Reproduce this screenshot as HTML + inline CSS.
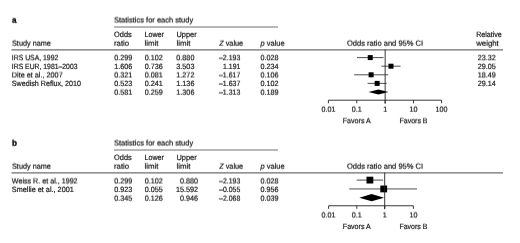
<!DOCTYPE html>
<html><head><meta charset="utf-8"><title>Forest plot</title>
<style>html,body{margin:0;padding:0;background:#fff;overflow:hidden}
#pg{position:relative;width:520px;height:243px;background:#fff;overflow:hidden}
.ly{position:absolute;left:0;top:0;width:520px;height:243px;transform-origin:0 0}
.ly.t{will-change:transform}
svg{display:block}
text{text-rendering:geometricPrecision;font-family:"Liberation Sans",sans-serif;font-size:7.7px;fill:#111;stroke:#111;stroke-width:0.18px}
text.b{font-weight:bold;fill:#000;font-size:8.4px;stroke:#000;stroke-width:0.3px}</style></head>
<body><div id="pg">
<div class="ly"><svg width="520" height="243" viewBox="0 0 520 243">
<line x1="114.00" y1="27.00" x2="278.00" y2="27.00" stroke="#707070" stroke-width="1.0"/>
<line x1="11.50" y1="49.80" x2="503.00" y2="49.80" stroke="#6e6e6e" stroke-width="1.25"/>
<line x1="356.97" y1="57.60" x2="383.57" y2="57.60" stroke="#222" stroke-width="0.8"/>
<rect x="367.75" y="55.10" width="5.0" height="5.0" fill="#000"/>
<line x1="381.37" y1="66.20" x2="400.62" y2="66.20" stroke="#222" stroke-width="0.8"/>
<rect x="388.50" y="63.70" width="5.0" height="5.0" fill="#000"/>
<line x1="354.13" y1="74.80" x2="388.12" y2="74.80" stroke="#222" stroke-width="0.8"/>
<rect x="368.62" y="72.30" width="5.0" height="5.0" fill="#000"/>
<line x1="367.59" y1="83.40" x2="386.72" y2="83.40" stroke="#222" stroke-width="0.8"/>
<rect x="374.65" y="80.90" width="5.0" height="5.0" fill="#000"/>
<polygon points="368.48,92.00 378.45,89.40 388.45,92.00 378.45,94.60" fill="#000"/>
<line x1="328.40" y1="100.20" x2="441.60" y2="100.20" stroke="#222" stroke-width="0.9"/>
<line x1="385.15" y1="49.50" x2="385.15" y2="103.70" stroke="#222" stroke-width="0.9"/>
<line x1="328.40" y1="100.20" x2="328.40" y2="103.30" stroke="#222" stroke-width="0.9"/>
<line x1="356.75" y1="100.20" x2="356.75" y2="103.30" stroke="#222" stroke-width="0.9"/>
<line x1="385.15" y1="100.20" x2="385.15" y2="103.30" stroke="#222" stroke-width="0.9"/>
<line x1="413.50" y1="100.20" x2="413.50" y2="103.30" stroke="#222" stroke-width="0.9"/>
<line x1="441.60" y1="100.20" x2="441.60" y2="103.30" stroke="#222" stroke-width="0.9"/>
<line x1="114.00" y1="150.00" x2="278.00" y2="150.00" stroke="#707070" stroke-width="1.0"/>
<line x1="11.50" y1="172.80" x2="503.00" y2="172.80" stroke="#6e6e6e" stroke-width="1.25"/>
<line x1="356.74" y1="180.10" x2="383.13" y2="180.10" stroke="#222" stroke-width="0.8"/>
<rect x="366.51" y="176.70" width="6.8" height="6.8" fill="#000"/>
<line x1="349.18" y1="188.95" x2="417.00" y2="188.95" stroke="#222" stroke-width="0.8"/>
<rect x="380.32" y="185.55" width="6.8" height="6.8" fill="#000"/>
<polygon points="359.33,197.70 371.67,194.10 384.02,197.70 371.67,201.30" fill="#000"/>
<line x1="328.60" y1="205.75" x2="413.40" y2="205.75" stroke="#222" stroke-width="0.9"/>
<line x1="384.70" y1="172.50" x2="384.70" y2="209.25" stroke="#222" stroke-width="0.9"/>
<line x1="328.60" y1="205.75" x2="328.60" y2="208.85" stroke="#222" stroke-width="0.9"/>
<line x1="356.80" y1="205.75" x2="356.80" y2="208.85" stroke="#222" stroke-width="0.9"/>
<line x1="384.70" y1="205.75" x2="384.70" y2="208.85" stroke="#222" stroke-width="0.9"/>
<line x1="413.40" y1="205.75" x2="413.40" y2="208.85" stroke="#222" stroke-width="0.9"/>
</svg></div>
<div class="ly t" style="transform:translate(0px,0.0px) rotate(0.004deg)"><svg width="520" height="243" viewBox="0 0 520 243">
<text x="114.0" y="37" textLength="17.70" lengthAdjust="spacingAndGlyphs">Odds</text>
<text x="144.5" y="37" textLength="19.40" lengthAdjust="spacingAndGlyphs">Lower</text>
<text x="176.5" y="37" textLength="20.20" lengthAdjust="spacingAndGlyphs">Upper</text>
<text x="476.2" y="37" textLength="25.60" lengthAdjust="spacingAndGlyphs">Relative</text>
<text x="11.8" y="69" textLength="65.70" lengthAdjust="spacingAndGlyphs">IRS EUR, 1981–2003</text>
<text x="114.2" y="69" textLength="18.04" lengthAdjust="spacingAndGlyphs">1.606</text>
<text x="144.7" y="69" textLength="18.04" lengthAdjust="spacingAndGlyphs">0.736</text>
<text x="194.4" y="69" text-anchor="end" textLength="18.04" lengthAdjust="spacingAndGlyphs">3.503</text>
<text x="240.3" y="69" text-anchor="end" textLength="17.20" lengthAdjust="spacingAndGlyphs">1.191</text>
<text x="260.5" y="69" textLength="18.04" lengthAdjust="spacingAndGlyphs">0.234</text>
<text x="477.7" y="69" textLength="18.04" lengthAdjust="spacingAndGlyphs">29.05</text>
<text x="11.8" y="86" textLength="69.10" lengthAdjust="spacingAndGlyphs">Swedish Reflux, 2010</text>
<text x="114.2" y="86" textLength="18.04" lengthAdjust="spacingAndGlyphs">0.523</text>
<text x="144.7" y="86" textLength="18.04" lengthAdjust="spacingAndGlyphs">0.241</text>
<text x="194.4" y="86" text-anchor="end" textLength="18.04" lengthAdjust="spacingAndGlyphs">1.136</text>
<text x="240.3" y="86" text-anchor="end" textLength="21.30" lengthAdjust="spacingAndGlyphs">–1.637</text>
<text x="260.5" y="86" textLength="18.04" lengthAdjust="spacingAndGlyphs">0.102</text>
<text x="477.7" y="86" textLength="18.04" lengthAdjust="spacingAndGlyphs">29.14</text>
<text x="114.0" y="160" textLength="17.70" lengthAdjust="spacingAndGlyphs">Odds</text>
<text x="144.5" y="160" textLength="19.40" lengthAdjust="spacingAndGlyphs">Lower</text>
<text x="176.5" y="160" textLength="20.20" lengthAdjust="spacingAndGlyphs">Upper</text>
<text x="11.8" y="192" textLength="62.00" lengthAdjust="spacingAndGlyphs">Smellie et al., 2001</text>
<text x="114.2" y="192" textLength="18.04" lengthAdjust="spacingAndGlyphs">0.923</text>
<text x="144.7" y="192" textLength="18.04" lengthAdjust="spacingAndGlyphs">0.055</text>
<text x="198.0" y="192" text-anchor="end" textLength="22.05" lengthAdjust="spacingAndGlyphs">15.592</text>
<text x="240.3" y="192" text-anchor="end" textLength="21.20" lengthAdjust="spacingAndGlyphs">–0.055</text>
<text x="260.5" y="192" textLength="18.04" lengthAdjust="spacingAndGlyphs">0.956</text>
<text x="356.8" y="229" text-anchor="middle" textLength="28.00" lengthAdjust="spacingAndGlyphs">Favors A</text>
<text x="413.4" y="229" text-anchor="middle" textLength="28.00" lengthAdjust="spacingAndGlyphs">Favors B</text>
</svg></div>
<div class="ly t" style="transform:translate(0px,0.25px) rotate(0.004deg)"><svg width="520" height="243" viewBox="0 0 520 243">
<text x="11.8" y="60" textLength="46.50" lengthAdjust="spacingAndGlyphs">IRS USA, 1992</text>
<text x="114.2" y="60" textLength="18.04" lengthAdjust="spacingAndGlyphs">0.299</text>
<text x="144.7" y="60" textLength="18.04" lengthAdjust="spacingAndGlyphs">0.102</text>
<text x="194.4" y="60" text-anchor="end" textLength="18.04" lengthAdjust="spacingAndGlyphs">0.880</text>
<text x="240.3" y="60" text-anchor="end" textLength="21.30" lengthAdjust="spacingAndGlyphs">–2.193</text>
<text x="260.5" y="60" textLength="18.04" lengthAdjust="spacingAndGlyphs">0.028</text>
<text x="477.7" y="60" textLength="18.04" lengthAdjust="spacingAndGlyphs">23.32</text>
<text x="356.75" y="123" text-anchor="middle" textLength="28.00" lengthAdjust="spacingAndGlyphs">Favors A</text>
<text x="413.5" y="123" text-anchor="middle" textLength="28.00" lengthAdjust="spacingAndGlyphs">Favors B</text>
</svg></div>
<div class="ly t" style="transform:translate(0px,0.5px) rotate(0.004deg)"><svg width="520" height="243" viewBox="0 0 520 243">
<text x="114.0" y="22" textLength="79.20" lengthAdjust="spacingAndGlyphs">Statistics for each study</text>
<text x="11.8" y="77" textLength="50.90" lengthAdjust="spacingAndGlyphs">Dite et al., 2007</text>
<text x="114.2" y="77" textLength="18.04" lengthAdjust="spacingAndGlyphs">0.321</text>
<text x="144.7" y="77" textLength="18.04" lengthAdjust="spacingAndGlyphs">0.081</text>
<text x="194.4" y="77" text-anchor="end" textLength="18.04" lengthAdjust="spacingAndGlyphs">1.272</text>
<text x="240.3" y="77" text-anchor="end" textLength="21.30" lengthAdjust="spacingAndGlyphs">–1.617</text>
<text x="260.5" y="77" textLength="18.04" lengthAdjust="spacingAndGlyphs">0.106</text>
<text x="477.7" y="77" textLength="18.04" lengthAdjust="spacingAndGlyphs">18.49</text>
<text x="114.0" y="145" textLength="79.20" lengthAdjust="spacingAndGlyphs">Statistics for each study</text>
<text x="11.8" y="183" textLength="65.80" lengthAdjust="spacingAndGlyphs">Weiss R. et al., 1992</text>
<text x="114.2" y="183" textLength="18.04" lengthAdjust="spacingAndGlyphs">0.299</text>
<text x="144.7" y="183" textLength="18.04" lengthAdjust="spacingAndGlyphs">0.102</text>
<text x="198.0" y="183" text-anchor="end" textLength="18.04" lengthAdjust="spacingAndGlyphs">0.880</text>
<text x="240.3" y="183" text-anchor="end" textLength="21.20" lengthAdjust="spacingAndGlyphs">–2.193</text>
<text x="260.5" y="183" textLength="18.04" lengthAdjust="spacingAndGlyphs">0.028</text>
<text x="328.6" y="217" text-anchor="middle" textLength="14.03" lengthAdjust="spacingAndGlyphs">0.01</text>
<text x="356.8" y="217" text-anchor="middle" textLength="10.02" lengthAdjust="spacingAndGlyphs">0.1</text>
<text x="384.7" y="217" text-anchor="middle" textLength="4.01" lengthAdjust="spacingAndGlyphs">1</text>
<text x="413.4" y="217" text-anchor="middle" textLength="8.02" lengthAdjust="spacingAndGlyphs">10</text>
</svg></div>
<div class="ly t" style="transform:translate(0px,0.75px) rotate(0.004deg)"><svg width="520" height="243" viewBox="0 0 520 243">
<text x="12" y="22" textLength="4.50" lengthAdjust="spacingAndGlyphs" class="b">a</text>
<text x="12" y="45" textLength="38.90" lengthAdjust="spacingAndGlyphs">Study name</text>
<text x="114.0" y="45" textLength="15.20" lengthAdjust="spacingAndGlyphs">ratio</text>
<text x="144.5" y="45" textLength="14.00" lengthAdjust="spacingAndGlyphs">limit</text>
<text x="176.5" y="45" textLength="14.00" lengthAdjust="spacingAndGlyphs">limit</text>
<text x="219.2" y="45" textLength="23.90" lengthAdjust="spacingAndGlyphs"><tspan font-style="italic">Z</tspan> value</text>
<text x="260.5" y="45" textLength="24.20" lengthAdjust="spacingAndGlyphs"><tspan font-style="italic">p</tspan> value</text>
<text x="385" y="45" text-anchor="middle" textLength="76.20" lengthAdjust="spacingAndGlyphs">Odds ratio and 95% CI</text>
<text x="476.2" y="45" textLength="22.60" lengthAdjust="spacingAndGlyphs">weight</text>
<text x="114.2" y="94" textLength="18.04" lengthAdjust="spacingAndGlyphs">0.581</text>
<text x="144.7" y="94" textLength="18.04" lengthAdjust="spacingAndGlyphs">0.259</text>
<text x="194.4" y="94" text-anchor="end" textLength="18.04" lengthAdjust="spacingAndGlyphs">1.306</text>
<text x="240.3" y="94" text-anchor="end" textLength="21.30" lengthAdjust="spacingAndGlyphs">–1.313</text>
<text x="260.5" y="94" textLength="18.04" lengthAdjust="spacingAndGlyphs">0.189</text>
<text x="328.4" y="111" text-anchor="middle" textLength="14.03" lengthAdjust="spacingAndGlyphs">0.01</text>
<text x="356.75" y="111" text-anchor="middle" textLength="10.02" lengthAdjust="spacingAndGlyphs">0.1</text>
<text x="385.15" y="111" text-anchor="middle" textLength="4.01" lengthAdjust="spacingAndGlyphs">1</text>
<text x="413.5" y="111" text-anchor="middle" textLength="8.02" lengthAdjust="spacingAndGlyphs">10</text>
<text x="441.6" y="111" text-anchor="middle" textLength="12.03" lengthAdjust="spacingAndGlyphs">100</text>
<text x="12" y="145" textLength="5.00" lengthAdjust="spacingAndGlyphs" class="b">b</text>
<text x="12" y="168" textLength="38.90" lengthAdjust="spacingAndGlyphs">Study name</text>
<text x="114.0" y="168" textLength="15.20" lengthAdjust="spacingAndGlyphs">ratio</text>
<text x="144.5" y="168" textLength="14.00" lengthAdjust="spacingAndGlyphs">limit</text>
<text x="176.5" y="168" textLength="14.00" lengthAdjust="spacingAndGlyphs">limit</text>
<text x="219.2" y="168" textLength="23.90" lengthAdjust="spacingAndGlyphs"><tspan font-style="italic">Z</tspan> value</text>
<text x="260.5" y="168" textLength="24.20" lengthAdjust="spacingAndGlyphs"><tspan font-style="italic">p</tspan> value</text>
<text x="385" y="168" text-anchor="middle" textLength="76.20" lengthAdjust="spacingAndGlyphs">Odds ratio and 95% CI</text>
<text x="114.2" y="200" textLength="18.04" lengthAdjust="spacingAndGlyphs">0.345</text>
<text x="144.7" y="200" textLength="18.04" lengthAdjust="spacingAndGlyphs">0.126</text>
<text x="198.0" y="200" text-anchor="end" textLength="18.04" lengthAdjust="spacingAndGlyphs">0.946</text>
<text x="240.3" y="200" text-anchor="end" textLength="21.20" lengthAdjust="spacingAndGlyphs">–2.068</text>
<text x="260.5" y="200" textLength="18.04" lengthAdjust="spacingAndGlyphs">0.039</text>
</svg></div>
</div></body></html>
